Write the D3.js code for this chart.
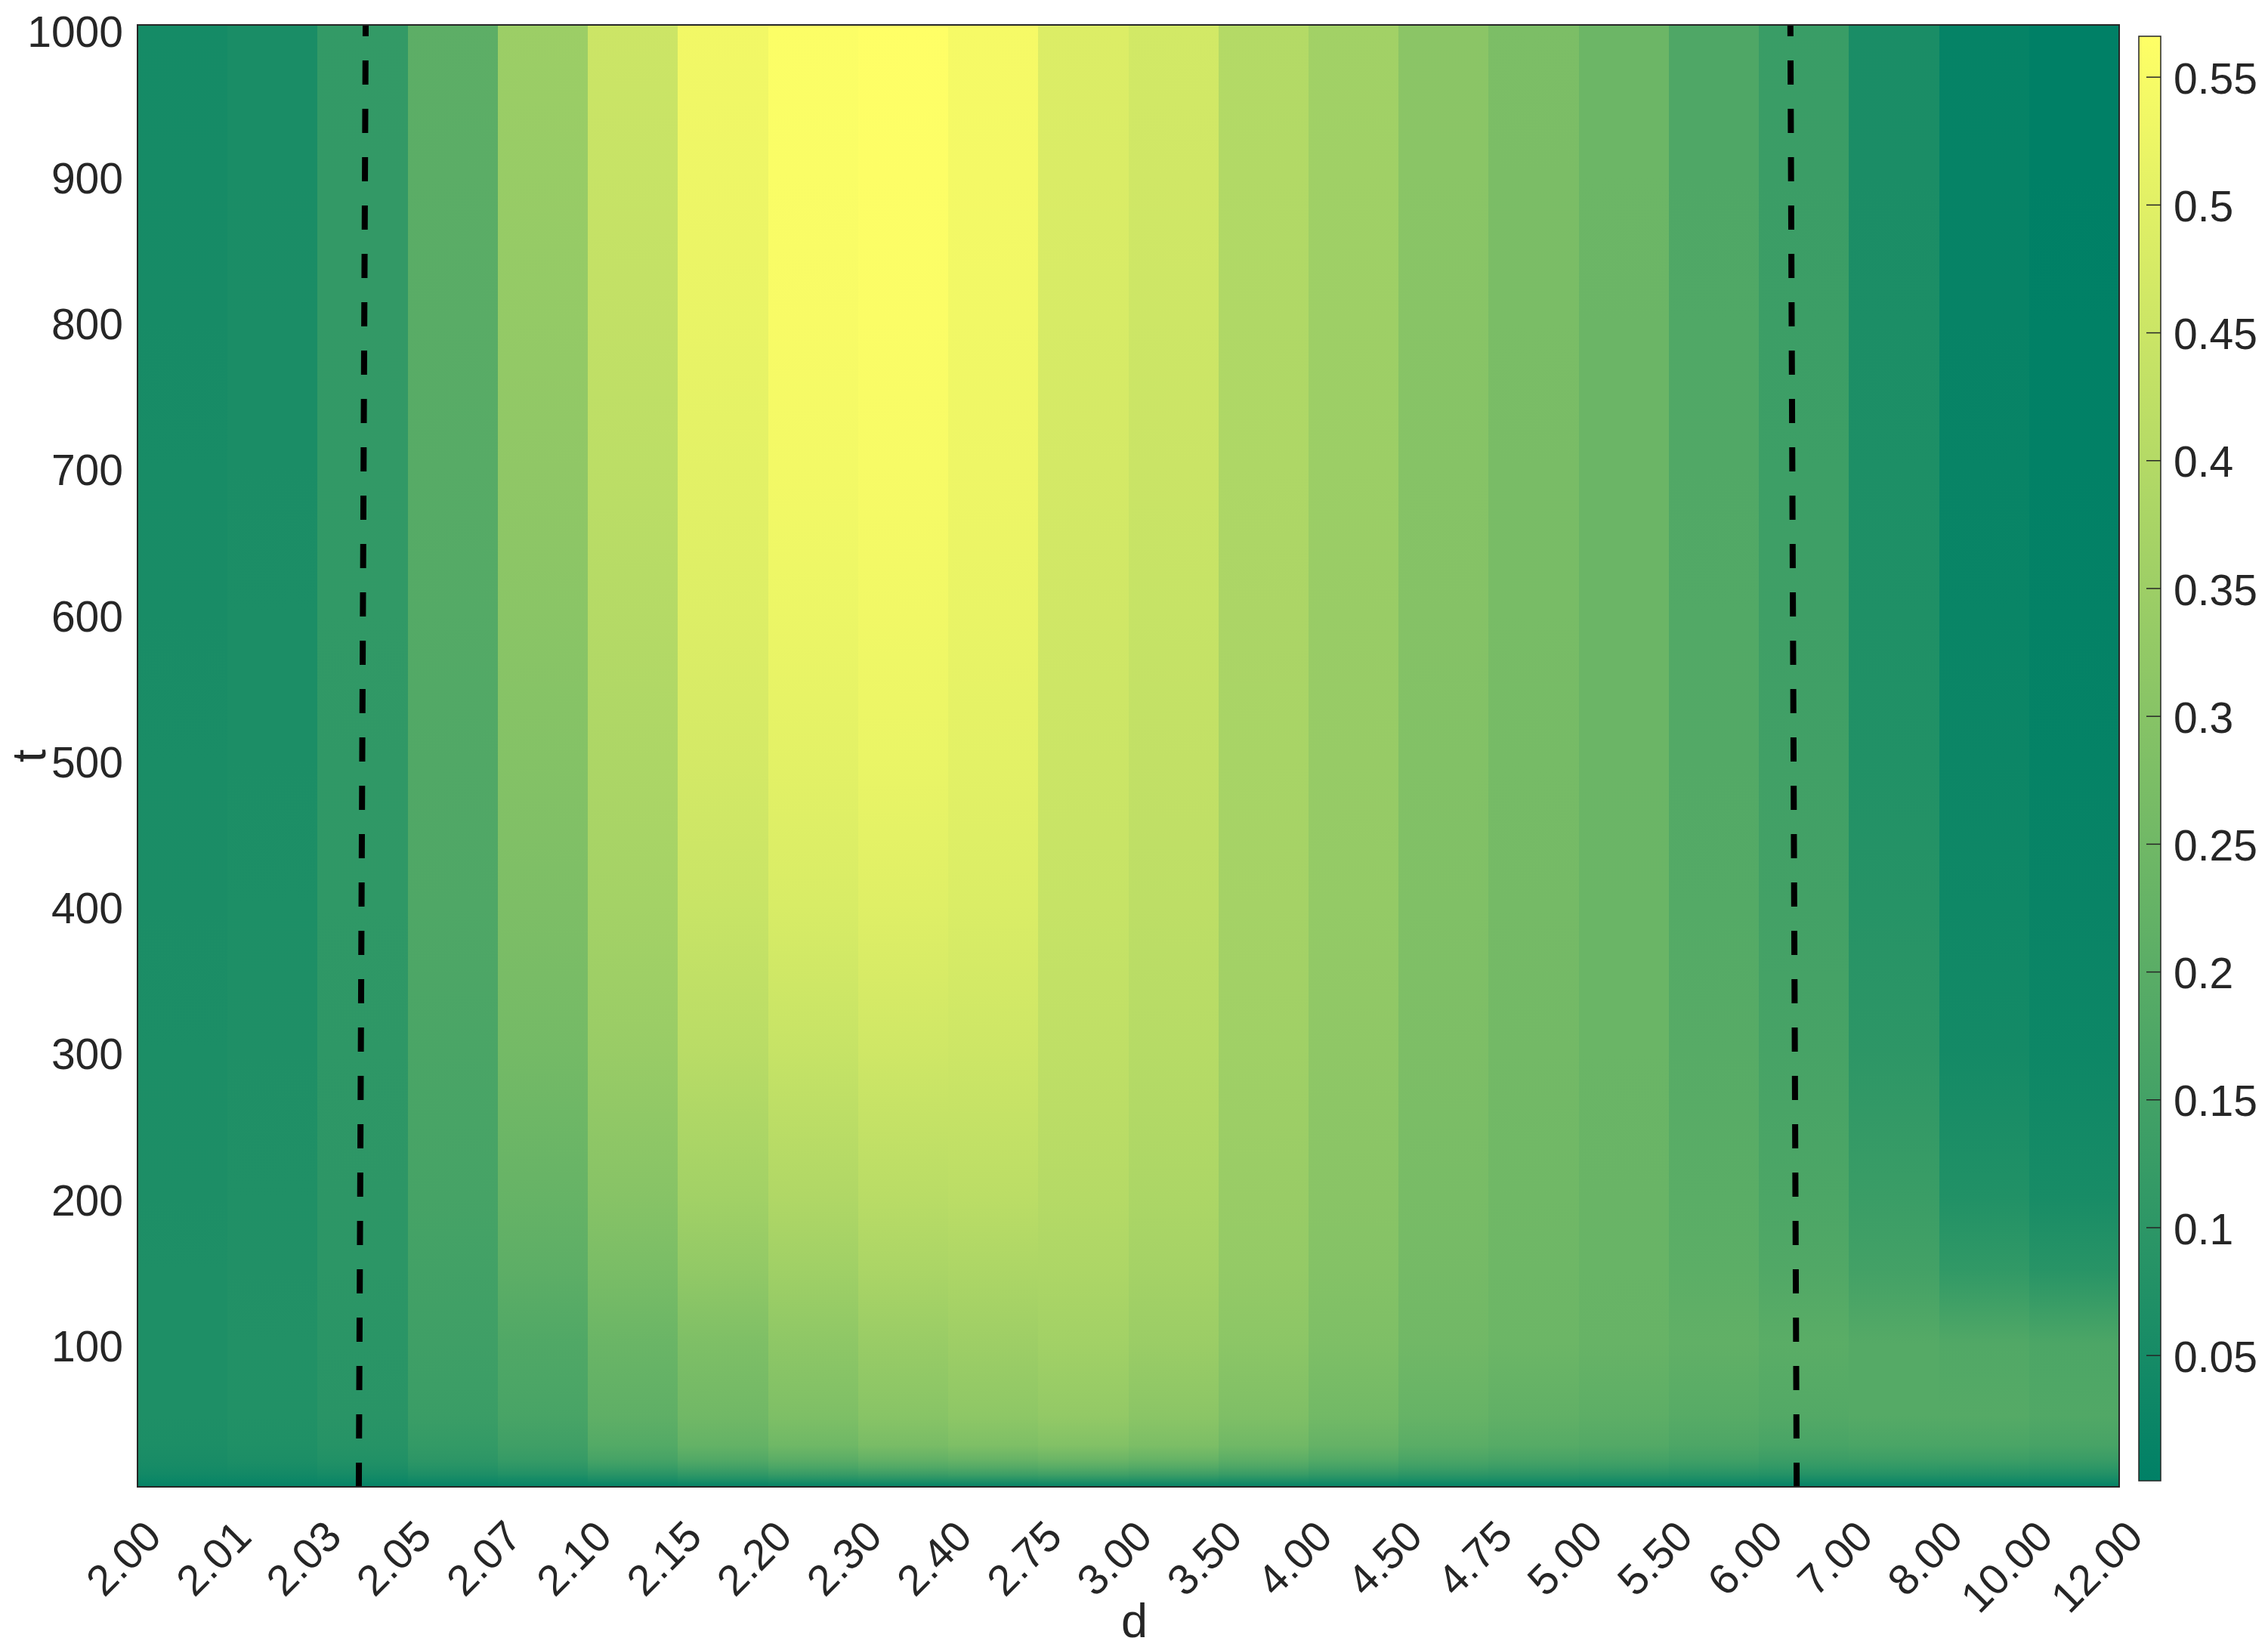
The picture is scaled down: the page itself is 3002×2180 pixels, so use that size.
<!DOCTYPE html>
<html>
<head>
<meta charset="utf-8">
<script src="https://cdn.jsdelivr.net/npm/d3@7/dist/d3.min.js"></script>
<style>
  html, body { margin: 0; padding: 0; background: #ffffff; }
  svg { display: block; }
  text { font-family: "Liberation Sans", Arial, Helvetica, sans-serif; fill: #262626; }
</style>
</head>
<body>
<svg id="chart" width="3002" height="2180"></svg>
<script>
// ---------------- data ----------------
const dLabels = ["2.00","2.01","2.03","2.05","2.07","2.10","2.15","2.20","2.30","2.40","2.75",
                 "3.00","3.50","4.00","4.50","4.75","5.00","5.50","6.00","7.00","8.00","10.00","12.00"];
const tSamples = [2, 4, 7, 10, 15, 20, 30, 50, 100, 150, 200, 300, 400, 500, 600, 700, 800, 900, 1000];
const tTicks = [100, 200, 300, 400, 500, 600, 700, 800, 900, 1000];
const colorbarTicks = [0.05, 0.1, 0.15, 0.2, 0.25, 0.3, 0.35, 0.4, 0.45, 0.5, 0.55];

// one array per d-interval (column), values at tSamples
const col00 = [.012,.020,.030,.040,.050,.056,.063,.067,.068,.067,.065,.062,.060,.058,.056,.054,.052,.050,.048];
const col01 = [.012,.020,.032,.043,.055,.062,.070,.075,.076,.074,.072,.069,.066,.064,.062,.061,.060,.059,.058];
const col02 = [.012,.022,.036,.050,.065,.075,.085,.092,.095,.098,.100,.103,.106,.108,.110,.111,.113,.114,.115];
const col03 = [.013,.025,.045,.065,.085,.100,.115,.130,.140,.148,.155,.165,.175,.181,.187,.193,.198,.203,.207];
const col04 = [.013,.030,.050,.075,.100,.120,.140,.160,.178,.206,.228,.258,.278,.293,.307,.319,.329,.338,.346];
const col05 = [.014,.032,.065,.092,.128,.155,.186,.212,.235,.272,.300,.340,.365,.385,.402,.418,.430,.441,.452];
const col06 = [.016,.037,.076,.108,.150,.182,.222,.252,.280,.325,.360,.410,.445,.470,.490,.505,.518,.528,.537];
const col07 = [.018,.041,.085,.122,.168,.203,.248,.280,.315,.355,.390,.440,.480,.505,.525,.540,.550,.556,.560];
const col08 = [.019,.045,.092,.132,.182,.220,.268,.303,.340,.380,.410,.460,.495,.520,.535,.548,.557,.562,.566];
const col09 = [.020,.047,.095,.137,.190,.229,.280,.315,.350,.385,.415,.455,.485,.505,.518,.528,.536,.541,.545];
const col10 = [.021,.049,.099,.142,.196,.237,.290,.326,.360,.385,.402,.425,.440,.451,.461,.470,.477,.483,.488];
const col11 = [.020,.047,.095,.136,.188,.226,.275,.310,.345,.367,.382,.405,.420,.430,.440,.448,.455,.461,.466];
const col12 = [.018,.043,.086,.124,.171,.205,.250,.282,.312,.328,.340,.356,.366,.374,.381,.387,.392,.396,.400];
const col13 = [.017,.039,.078,.112,.154,.186,.225,.254,.280,.294,.304,.318,.328,.335,.341,.347,.351,.356,.360];
const col14 = [.015,.035,.070,.100,.138,.165,.200,.226,.252,.260,.267,.277,.284,.290,.295,.299,.303,.307,.310];
const col15 = [.014,.034,.067,.096,.132,.158,.192,.216,.240,.245,.250,.256,.260,.263,.266,.268,.271,.273,.275];
const col16 = [.014,.032,.064,.092,.127,.152,.184,.207,.230,.232,.233,.235,.236,.237,.238,.238,.239,.240,.240];
const col17 = [.013,.030,.060,.086,.118,.142,.172,.194,.215,.205,.200,.193,.188,.185,.183,.180,.178,.176,.175];
const col18 = [.012,.028,.056,.080,.110,.132,.160,.185,.200,.180,.170,.158,.150,.145,.140,.137,.134,.131,.128];
const col19 = [.012,.028,.056,.080,.110,.135,.165,.190,.190,.150,.130,.100,.085,.075,.070,.066,.063,.060,.058];
const col20 = [.012,.028,.055,.078,.108,.133,.165,.190,.180,.110,.075,.045,.035,.027,.022,.019,.016,.014,.013];
const col21 = [.011,.026,.052,.074,.103,.127,.158,.180,.170,.090,.055,.030,.020,.013,.009,.006,.004,.002,.001];
const columns = [col00,col01,col02,col03,col04,col05,col06,col07,col08,col09,col10,
                 col11,col12,col13,col14,col15,col16,col17,col18,col19,col20,col21];

// dashed boundary lines (x in tick-index units, t in data units)
const boundaryLeft  = [{t: 1.5, x: 2.457}, {t: 1003, x: 2.533}];
const boundaryRight = [{t: 1.5, x: 18.42}, {t: 1003, x: 18.35}];

// ---------------- layout ----------------
const plot = {left: 182, right: 2805, top: 33, bottom: 1968};
const cbar = {left: 2831, right: 2860, top: 48, bottom: 1960};
const fontTick = 57, fontLabel = 63;

const svg = d3.select("#chart");
const defs = svg.append("defs");

const x = d3.scaleLinear().domain([0, dLabels.length - 1]).range([plot.left, plot.right]);
const y = d3.scaleLinear().domain([1.5, 1002.5]).range([plot.bottom, plot.top]);

const allVals = columns.flat();
const vExtent = d3.extent(allVals);
const color = d3.scaleLinear().domain(vExtent).range(["#008066", "#ffff66"]).interpolate(d3.interpolateRgb);

// ---------------- heatmap ----------------
columns.forEach((vals, i) => {
  const y1 = y(tSamples[0]), y2 = y(tSamples[tSamples.length - 1]);
  const g = defs.append("linearGradient")
    .attr("id", "colgrad" + i)
    .attr("gradientUnits", "userSpaceOnUse")
    .attr("x1", 0).attr("x2", 0)
    .attr("y1", y1).attr("y2", y2);
  vals.forEach((v, k) => {
    g.append("stop")
      .attr("offset", (y(tSamples[k]) - y1) / (y2 - y1))
      .attr("stop-color", color(v));
  });
});

svg.append("g").selectAll("rect")
  .data(columns)
  .join("rect")
  .attr("x", (d, i) => x(i))
  .attr("width", (d, i) => x(i + 1) - x(i) + 0.6)
  .attr("y", plot.top)
  .attr("height", plot.bottom - plot.top)
  .attr("fill", (d, i) => "url(#colgrad" + i + ")")
  .attr("shape-rendering", "crispEdges");

// dashed lines
const lineGen = d3.line().x(d => x(d.x)).y(d => y(d.t));
[boundaryLeft, boundaryRight].forEach(b => {
  svg.append("path")
    .attr("d", lineGen(b))
    .attr("fill", "none")
    .attr("stroke", "#000000")
    .attr("stroke-width", 8)
    .attr("stroke-dasharray", "32,32");
});

// frame
svg.append("rect")
  .attr("x", plot.left).attr("y", plot.top)
  .attr("width", plot.right - plot.left).attr("height", plot.bottom - plot.top)
  .attr("fill", "none").attr("stroke", "#262626").attr("stroke-width", 2);

// ---------------- axes ----------------
const yAxis = d3.axisLeft(y).tickValues(tTicks).tickSize(0).tickPadding(0).tickFormat(d3.format("d"));
const yg = svg.append("g").attr("transform", `translate(${plot.left - 19},0)`).call(yAxis);
yg.select(".domain").remove();
yg.selectAll("text").attr("font-size", fontTick).attr("dy", "0.42em")
  .style("font-family", '"Liberation Sans", Arial, Helvetica, sans-serif').attr("fill", "#262626");

const xAxis = d3.axisBottom(x).tickValues(d3.range(dLabels.length)).tickSize(0).tickFormat(i => dLabels[i]);
const xg = svg.append("g").attr("transform", `translate(0,${plot.bottom})`).call(xAxis);
xg.select(".domain").remove();
xg.selectAll("text")
  .attr("font-size", fontTick)
  .style("font-family", '"Liberation Sans", Arial, Helvetica, sans-serif')
  .attr("fill", "#262626")
  .attr("text-anchor", "end")
  .attr("x", 0).attr("y", 0).attr("dy", 0)
  .attr("transform", "translate(34,69) rotate(-45)");

svg.append("text")
  .attr("x", (plot.left + plot.right) / 2 + 8).attr("y", 2167)
  .attr("text-anchor", "middle").attr("font-size", fontLabel).text("d");

svg.append("text")
  .attr("transform", `translate(60,${(plot.top + plot.bottom) / 2}) rotate(-90)`)
  .attr("text-anchor", "middle").attr("font-size", fontLabel).text("t");

// ---------------- colorbar ----------------
const cy = d3.scaleLinear().domain(vExtent).range([cbar.bottom, cbar.top]);
const cg = defs.append("linearGradient").attr("id", "cbgrad")
  .attr("x1", 0).attr("x2", 0).attr("y1", 1).attr("y2", 0);
cg.append("stop").attr("offset", 0).attr("stop-color", color(vExtent[0]));
cg.append("stop").attr("offset", 1).attr("stop-color", color(vExtent[1]));

svg.append("rect")
  .attr("x", cbar.left).attr("y", cbar.top)
  .attr("width", cbar.right - cbar.left).attr("height", cbar.bottom - cbar.top)
  .attr("fill", "url(#cbgrad)");

svg.append("g").selectAll("line")
  .data(colorbarTicks)
  .join("line")
  .attr("x1", cbar.right - 19).attr("x2", cbar.right)
  .attr("y1", d => cy(d)).attr("y2", d => cy(d))
  .attr("stroke", "#262626").attr("stroke-width", 1.5);

svg.append("rect")
  .attr("x", cbar.left).attr("y", cbar.top)
  .attr("width", cbar.right - cbar.left).attr("height", cbar.bottom - cbar.top)
  .attr("fill", "none").attr("stroke", "#262626").attr("stroke-width", 1.5);

svg.append("g").selectAll("text")
  .data(colorbarTicks)
  .join("text")
  .attr("x", cbar.right + 17)
  .attr("y", d => cy(d))
  .attr("dy", "0.38em")
  .attr("font-size", fontTick)
  .text(d => d3.format("")(d));
</script>
</body>
</html>
